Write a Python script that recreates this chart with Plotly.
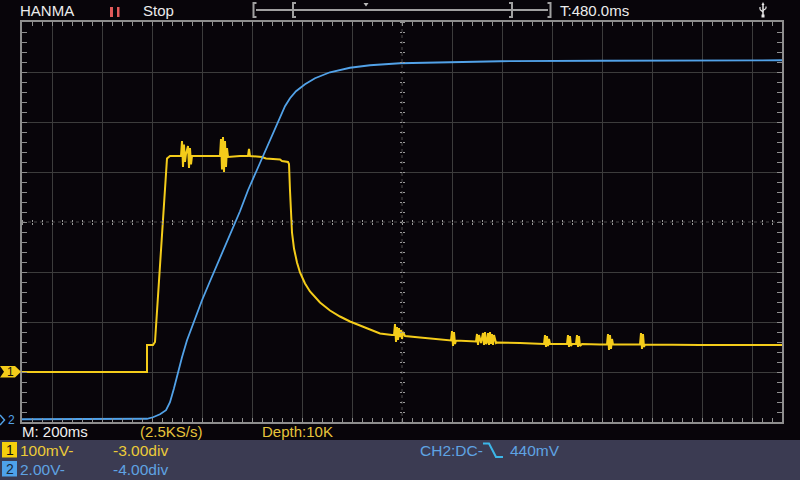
import plotly.graph_objects as go

# ---------------- scope settings ----------------
TIMEBASE_MS = 200          # M: 200ms per division
CH1_MV_PER_DIV = 100       # 100mV/div
CH1_OFFSET_DIV = -3.0
CH2_V_PER_DIV = 2.0        # 2.00V/div
CH2_OFFSET_DIV = -4.0
X_RANGE_MS = [-1520, 1520]
Y_RANGE_DIV = [-4, 4]

# ---------------- CH1 (yellow) : time in ms, value in mV ----------------
ch1_time_ms = [
    -1520, -1020, -1020, -996, -988, -976, -964, -952, -940, -928,
    -896, -884, -880, -876, -872, -868, -864, -856, -852, -848,
    -844, -840, -808, -760, -728, -724, -720, -716, -712, -708,
    -704, -700, -696, -648, -616, -612, -608, -560, -544, -488,
    -480, -456, -452, -448, -444, -440, -432, -420, -408, -388,
    -368, -328, -288, -248, -208, -168, -128, -88, -40, -32,
    -28, -24, -20, -16, -12, -8, -4, 0, 4, 12,
    72, 152, 196, 200, 204, 208, 212, 216, 296, 300,
    304, 308, 316, 324, 328, 332, 336, 340, 344, 348,
    352, 356, 360, 364, 368, 376, 380, 472, 568, 572,
    576, 580, 584, 588, 592, 660, 664, 668, 672, 676,
    680, 696, 700, 704, 708, 712, 720, 792, 820, 824,
    828, 832, 836, 840, 844, 952, 956, 960, 964, 968,
    972, 1192, 1520,
]
ch1_mv = [
    0, 0, 54, 54, 60, 147, 241, 335, 427, 432,
    432, 432, 462, 410, 455, 420, 436, 452, 408, 448,
    415, 432, 432, 432, 432, 466, 405, 470, 400, 462,
    410, 448, 430, 432, 432, 446, 432, 430, 427, 425,
    422, 420, 416, 363, 313, 279, 247, 219, 199, 177,
    161, 139, 123, 111, 101, 93, 85, 77, 74, 74,
    96, 60, 90, 64, 88, 70, 84, 66, 80, 72,
    69, 66, 63, 82, 52, 80, 56, 63, 61, 76,
    54, 74, 58, 78, 54, 80, 56, 60, 78, 54,
    80, 56, 76, 54, 74, 58, 59, 58, 56, 74,
    50, 72, 52, 66, 56, 56, 74, 50, 72, 52,
    56, 56, 74, 50, 72, 52, 56, 55, 55, 76,
    44, 74, 46, 66, 55, 55, 78, 46, 76, 50,
    55, 54, 54,
]

# ---------------- CH2 (blue) : time in ms, value in V ----------------
ch2_time_ms = [
    -1520, -1048, -1020, -996, -968, -944, -928, -912, -896, -880,
    -860, -828, -800, -768, -728, -688, -648, -616, -584, -556,
    -528, -508, -488, -468, -448, -424, -388, -348, -288, -208,
    -128, -8, 192, 392, 792, 1192, 1520,
]
ch2_v = [
    0.11, 0.11, 0.13, 0.19, 0.31, 0.47, 0.79, 1.35, 1.99, 2.59,
    3.27, 4.15, 4.87, 5.63, 6.55, 7.47, 8.43, 9.27, 9.99, 10.59,
    11.27, 11.67, 12.15, 12.63, 12.95, 13.23, 13.51, 13.75, 13.99, 14.17,
    14.27, 14.35, 14.39, 14.43, 14.45, 14.47, 14.47,
]

# ---------------- labels ----------------
brand = "HANMA"
run_state = "Stop"
trig_time = "T:480.0ms"
timebase_label = "M: 200ms"
rate_label = "(2.5KS/s)"
depth_label = "Depth:10K"
ch1_scale_label = "100mV-"
ch1_pos_label = "-3.00div"
ch2_scale_label = "2.00V-"
ch2_pos_label = "-4.00div"
trig_src_label = "CH2:DC-"
trig_level_label = "440mV"

# ---------------- colours / geometry ----------------
BG = "#08050a"
YEL = "#f4cc1a"
YEL_TXT = "#eccb38"
BLUE = "#52a2e8"
BLUE_TXT = "#5fa3e3"
BORDER = "#8e8e8e"
GRID = "#3c3c3c"
FONT = "Liberation Sans, Arial, Helvetica, sans-serif"

W, H = 800, 480
L, R, T, B = 22, 18, 22, 58
PW = W - L - R
PH = H - T - B


def fx(px):
    return (px - L) / PW


def fy(py):
    return (H - B - py) / PH


ch1_div = [v / CH1_MV_PER_DIV + CH1_OFFSET_DIV for v in ch1_mv]
ch2_div = [v / CH2_V_PER_DIV + CH2_OFFSET_DIV for v in ch2_v]

fig = go.Figure()
fig.add_trace(go.Scatter(x=ch1_time_ms, y=ch1_div, mode="lines",
                         line=dict(color=YEL, width=2), hoverinfo="skip", showlegend=False))
fig.add_trace(go.Scatter(x=ch2_time_ms, y=ch2_div, mode="lines",
                         line=dict(color=BLUE, width=1.8), hoverinfo="skip", showlegend=False))
# empty traces so the graticule overlay axes exist
for i in (2, 3, 4):
    fig.add_trace(go.Scatter(x=[None], y=[None], xaxis=f"x{i}", yaxis=f"y{i}",
                             hoverinfo="skip", showlegend=False))

grid_x = [k * TIMEBASE_MS for k in range(-7, 8) if k != 0]
grid_y = [k for k in range(-3, 4) if k != 0]

common = dict(showticklabels=False, zeroline=False, fixedrange=True)
fig.update_layout(
    width=W, height=H,
    margin=dict(l=L, r=R, t=T, b=B, pad=0),
    paper_bgcolor=BG, plot_bgcolor=BG,
    xaxis=dict(range=X_RANGE_MS, tickmode="array", tickvals=grid_x, ticks="",
               showgrid=True, gridcolor=GRID, gridwidth=1,
               showline=True, linecolor=BORDER, linewidth=2, mirror=True, **common),
    yaxis=dict(range=Y_RANGE_DIV, tickmode="array", tickvals=grid_y, ticks="",
               showgrid=True, gridcolor=GRID, gridwidth=1,
               showline=True, linecolor=BORDER, linewidth=2, mirror=True, **common),
    # border minor ticks
    xaxis2=dict(overlaying="x", anchor="y", range=X_RANGE_MS, tickmode="linear", tick0=0,
                dtick=TIMEBASE_MS / 5, ticks="inside", ticklen=4, tickwidth=1,
                tickcolor=BORDER, mirror="ticks", showgrid=False, showline=False, **common),
    yaxis2=dict(overlaying="y", anchor="x", range=Y_RANGE_DIV, tickmode="linear", tick0=0,
                dtick=0.2, ticks="inside", ticklen=5, tickwidth=1,
                tickcolor=BORDER, mirror="ticks", showgrid=False, showline=False, **common),
    # centre cross ticks
    xaxis3=dict(overlaying="x", anchor="free", position=0.5, side="bottom", range=X_RANGE_MS,
                tickmode="linear", tick0=0, dtick=TIMEBASE_MS / 5, ticks="outside", ticklen=2,
                tickwidth=1, tickcolor="#9a9a9a", showgrid=False, showline=False, **common),
    xaxis4=dict(overlaying="x", anchor="free", position=0.5, side="top", range=X_RANGE_MS,
                tickmode="linear", tick0=0, dtick=TIMEBASE_MS / 5, ticks="outside", ticklen=2,
                tickwidth=1, tickcolor="#9a9a9a", showgrid=False, showline=False, **common),
    yaxis3=dict(overlaying="y", anchor="free", position=0.5, side="left", range=Y_RANGE_DIV,
                tickmode="linear", tick0=0, dtick=0.2, ticks="outside", ticklen=2,
                tickwidth=1, tickcolor="#9a9a9a", showgrid=False, showline=False, **common),
    yaxis4=dict(overlaying="y", anchor="free", position=0.5, side="right", range=Y_RANGE_DIV,
                tickmode="linear", tick0=0, dtick=0.2, ticks="outside", ticklen=2,
                tickwidth=1, tickcolor="#9a9a9a", showgrid=False, showline=False, **common),
)

shapes = []


def rect(x0, y0, x1, y1, fill):
    shapes.append(dict(type="rect", xref="paper", yref="paper",
                       x0=fx(x0), x1=fx(x1), y0=fy(y1), y1=fy(y0),
                       fillcolor=fill, line=dict(width=0), layer="above"))


def seg(x0, y0, x1, y1, color, width=2):
    shapes.append(dict(type="line", xref="paper", yref="paper",
                       x0=fx(x0), x1=fx(x1), y0=fy(y0), y1=fy(y1),
                       line=dict(color=color, width=width), layer="above"))


def path(points, color, fill=None, width=1.5, closed=True):
    d = "M " + " L ".join(f"{fx(a):.5f},{fy(b):.5f}" for a, b in points)
    if closed:
        d += " Z"
    shapes.append(dict(type="path", xref="paper", yref="paper", path=d,
                       fillcolor=fill if fill else "rgba(0,0,0,0)",
                       line=dict(color=color, width=width if not fill else 0),
                       layer="above"))


# centre dotted lines
shapes.append(dict(type="line", xref="x", yref="paper", x0=0, x1=0, y0=0, y1=1,
                   line=dict(color="#4a4a4a", width=1, dash="dot"), layer="below"))
shapes.append(dict(type="line", xref="paper", yref="y", x0=0, x1=1, y0=0, y1=0,
                   line=dict(color="#4a4a4a", width=1, dash="dot"), layer="below"))

# bottom panel and channel badges
rect(0, 440, 800, 480, "#3b3b52")
rect(2, 442, 17, 457.5, "#f5cf0c")
rect(2, 461, 17, 476.5, "#4ea2ea")

# pause symbol (red bars)
rect(110, 7, 113, 17, "#e25a5a")
rect(117, 7, 119.5, 17, "#e25a5a")

# memory / trigger position bar
G = "#a0a0a0"
seg(256, 10, 548, 10, G, 2)
for xb, d in ((253.5, 1), (293, 1), (512, -1), (550.5, -1)):
    seg(xb, 2, xb, 18, G, 2)
    seg(xb, 3, xb + 3 * d, 3, G, 2)
    seg(xb, 17, xb + 3 * d, 17, G, 2)
path([(363.5, 3), (368.5, 3), (366, 6.5)], "#b8b8b8", fill="#b8b8b8")

# USB icon
U = "#e8e8e8"
seg(763, 4, 763, 15, U, 1.5)
seg(763, 12, 760, 9.5, U, 1.2)
seg(760, 9.5, 760, 7, U, 1.2)
seg(763, 10.5, 766, 8.5, U, 1.2)
seg(766, 8.5, 766, 6.5, U, 1.2)
path([(761.5, 5), (764.5, 5), (763, 2)], U, fill=U)
rect(761.5, 14.5, 764.5, 17.5, U)

# channel markers on the left edge
path([(0, 366), (15, 366), (21, 371.7), (15, 377.5), (0, 377.5), (4, 371.7)], YEL, fill=YEL)
path([(0, 415), (4.5, 420), (0, 425)], BLUE, closed=False, width=1.5)

# trigger edge symbol
path([(483, 443.5), (489, 443.5), (496, 457), (503, 457)], "#3cb6e8", closed=False, width=2)

fig.update_layout(shapes=shapes)

annotations = []


def txt(s, x, y, color, size=15, anchor="left"):
    annotations.append(dict(text=s, x=fx(x), y=fy(y), xref="paper", yref="paper",
                            xanchor=anchor, yanchor="middle", showarrow=False,
                            borderpad=0, font=dict(family=FONT, size=size, color=color)))


txt(brand, 18.5, 10.5, "#ececec")
txt(run_state, 142, 10.5, "#ececec")
txt(trig_time, 558.5, 10.5, "#ececec")
txt(timebase_label, 20.5, 432, "#f0f0f0")
txt(rate_label, 138.5, 432, "#e6c43c")
txt(depth_label, 260.5, 432, "#e6c43c")
txt("1", 9.5, 450, "#101010", 14, "center")
txt(ch1_scale_label, 18.5, 450, YEL_TXT, 15.5)
txt(ch1_pos_label, 111.5, 450, YEL_TXT, 15.5)
txt("2", 9.5, 469, "#18283c", 14, "center")
txt(ch2_scale_label, 18.5, 469, BLUE_TXT, 15.5)
txt(ch2_pos_label, 111.5, 469, BLUE_TXT, 15.5)
txt(trig_src_label, 418.5, 450, BLUE_TXT, 15.5)
txt(trig_level_label, 508.5, 450, BLUE_TXT, 15.5)
txt("1", 10, 372, "#101010", 12, "center")
txt("2", 11, 420, BLUE, 12, "center")

fig.update_layout(annotations=annotations)

fig.write_html(
    "out.html",
    config={"displayModeBar": False, "staticPlot": True},
    post_script="document.body.style.margin='0';document.body.style.overflow='hidden';"
                "document.documentElement.style.background='" + BG + "';",
)
